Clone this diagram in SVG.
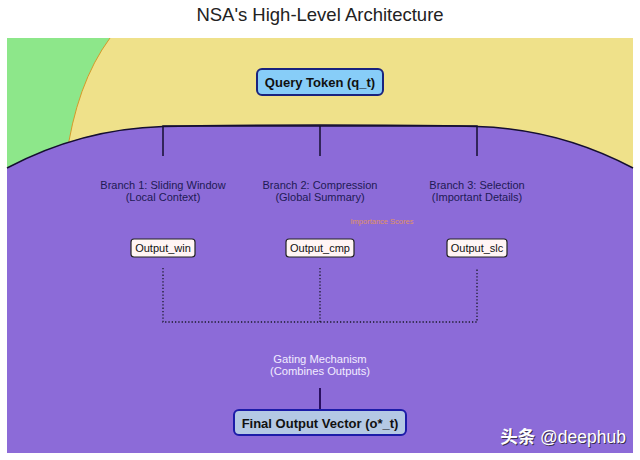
<svg xmlns="http://www.w3.org/2000/svg" width="640" height="460" viewBox="0 0 640 460">
<style>
text{font-family:"Liberation Sans",Arial,sans-serif}
.title{font-size:18.5px;fill:#222;text-anchor:middle}
.branch{font-size:11px;fill:#1e1a55;text-anchor:middle}
.gate{font-size:11.2px;fill:#f2ecff;text-anchor:middle}
.out rect{fill:#fff4f4;stroke:#222;stroke-width:1.2}
.out text{font-size:11px;fill:#111;text-anchor:middle}
.main text{font-size:13px;font-weight:bold;fill:#111;text-anchor:middle}
.solid{stroke:#150f30;stroke-width:1.5;fill:none}
.dot{stroke:#1a1a2a;stroke-width:1.3;fill:none;stroke-dasharray:1.3 2}
.wm{font-size:17.5px;text-anchor:end;font-family:"Liberation Sans","Noto Sans CJK SC",sans-serif}
</style>
<rect x="0" y="0" width="640" height="460" fill="#ffffff"/>
<text class="title" x="320" y="21">NSA's High-Level Architecture</text>
<g id="background">
<rect x="7" y="38" width="626" height="415" fill="#8de78a"/>
<path d="M110,38 Q76,84 66,160 L66,200 L633,200 L633,38 Z" fill="#efe18a"/>
<path d="M110,38 Q76,84 66,160" fill="none" stroke="#d49a2a" stroke-width="1"/>
<path d="M7,168 C60,140 110,128 163,126.5 C215,124.5 425,124.5 477,126.5 C530,128 580,140 633,168 L633,453 L7,453 Z" fill="#8c6bd8"/>
<path d="M7,168 C60,140 110,128 163,126.5 C215,124.5 425,124.5 477,126.5 C530,128 580,140 633,168" fill="none" stroke="#150f30" stroke-width="1.5"/>
</g>
<g id="connectors">
<path class="solid" d="M163,156 V126 H477 V156 M320,126 V156"/>
<path class="dot" d="M163,268 V322 H477 V268 M320,268 V322"/>
<path d="M320,388 V410" stroke="#2a1060" stroke-width="2"/>
</g>
<g id="query" class="main">
<rect x="257" y="69" width="126" height="26" rx="5" fill="#87cdf8" stroke="#1a237e" stroke-width="2"/>
<text x="320" y="86.5">Query Token (q_t)</text>
</g>
<g id="branch1">
<text class="branch" x="163" y="189">Branch 1: Sliding Window</text>
<text class="branch" x="163" y="201">(Local Context)</text>
</g>
<g id="branch2">
<text class="branch" x="320" y="189">Branch 2: Compression</text>
<text class="branch" x="320" y="201">(Global Summary)</text>
</g>
<g id="branch3">
<text class="branch" x="477" y="189">Branch 3: Selection</text>
<text class="branch" x="477" y="201">(Important Details)</text>
</g>
<text x="382" y="223.5" font-size="7.5" fill="#f09a50" text-anchor="middle" opacity="0.85">Importance Scores</text>
<g id="out_win" class="out">
<rect x="131" y="239" width="64" height="18" rx="3"/>
<text x="163" y="252">Output_win</text>
</g>
<g id="out_cmp" class="out">
<rect x="286" y="239" width="68" height="18" rx="3"/>
<text x="320" y="252">Output_cmp</text>
</g>
<g id="out_slc" class="out">
<rect x="447" y="239" width="60" height="18" rx="3"/>
<text x="477" y="252">Output_slc</text>
</g>
<g id="gating">
<text class="gate" x="320" y="363">Gating Mechanism</text>
<text class="gate" x="320" y="375">(Combines Outputs)</text>
</g>
<g id="final" class="main">
<rect x="234" y="410" width="172" height="25" rx="5" fill="#b4c8e4" stroke="#1c1ca8" stroke-width="2"/>
<text x="320" y="427.5">Final Output Vector (o*_t)</text>
</g>
<g id="watermark">
<text class="wm" x="627" y="444" fill="#3a3050" aria-hidden="true"><tspan font-weight="bold">头条</tspan> @deephub</text>
<text class="wm" x="626" y="443" fill="#ffffff"><tspan font-weight="bold">头条</tspan> @deephub</text>
</g>
</svg>
